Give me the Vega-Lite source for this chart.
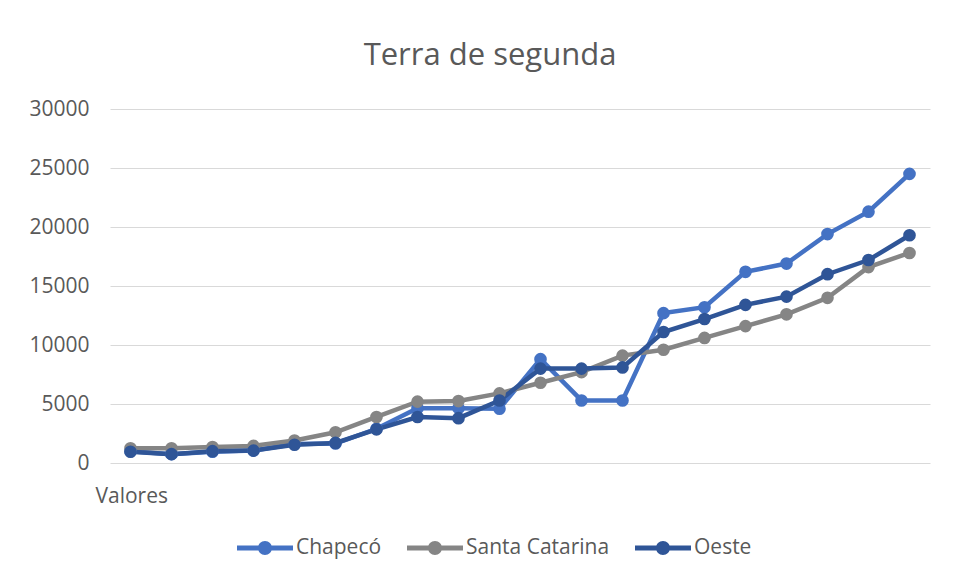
{
  "$schema": "https://vega.github.io/schema/vega-lite/v6.json",
  "autosize": "none",
  "width": 820,
  "height": 354,
  "padding": {"left": 110, "top": 109, "right": 30, "bottom": 118},
  "background": "white",
  "config": {
    "font": "Open Sans",
    "view": {"stroke": null}
  },
  "title": {
    "text": "Terra de segunda",
    "fontSize": 31,
    "fontWeight": "normal",
    "color": "#595959",
    "font": "Open Sans",
    "baseline": "alphabetic",
    "dx": -30,
    "offset": 2
  },
  "data": {
    "values": [
      {"i": 1, "serie": "Chapecó", "v": 1000},
      {"i": 2, "serie": "Chapecó", "v": 750},
      {"i": 3, "serie": "Chapecó", "v": 950},
      {"i": 4, "serie": "Chapecó", "v": 1050},
      {"i": 5, "serie": "Chapecó", "v": 1600},
      {"i": 6, "serie": "Chapecó", "v": 1650},
      {"i": 7, "serie": "Chapecó", "v": 2900},
      {"i": 8, "serie": "Chapecó", "v": 4650},
      {"i": 9, "serie": "Chapecó", "v": 4650},
      {"i": 10, "serie": "Chapecó", "v": 4600},
      {"i": 11, "serie": "Chapecó", "v": 8800},
      {"i": 12, "serie": "Chapecó", "v": 5300},
      {"i": 13, "serie": "Chapecó", "v": 5300},
      {"i": 14, "serie": "Chapecó", "v": 12700},
      {"i": 15, "serie": "Chapecó", "v": 13200},
      {"i": 16, "serie": "Chapecó", "v": 16200},
      {"i": 17, "serie": "Chapecó", "v": 16900},
      {"i": 18, "serie": "Chapecó", "v": 19400},
      {"i": 19, "serie": "Chapecó", "v": 21300},
      {"i": 20, "serie": "Chapecó", "v": 24500},
      {"i": 1, "serie": "Santa Catarina", "v": 1250},
      {"i": 2, "serie": "Santa Catarina", "v": 1250},
      {"i": 3, "serie": "Santa Catarina", "v": 1350},
      {"i": 4, "serie": "Santa Catarina", "v": 1450},
      {"i": 5, "serie": "Santa Catarina", "v": 1900},
      {"i": 6, "serie": "Santa Catarina", "v": 2600},
      {"i": 7, "serie": "Santa Catarina", "v": 3900},
      {"i": 8, "serie": "Santa Catarina", "v": 5200},
      {"i": 9, "serie": "Santa Catarina", "v": 5250},
      {"i": 10, "serie": "Santa Catarina", "v": 5900},
      {"i": 11, "serie": "Santa Catarina", "v": 6800},
      {"i": 12, "serie": "Santa Catarina", "v": 7700},
      {"i": 13, "serie": "Santa Catarina", "v": 9100},
      {"i": 14, "serie": "Santa Catarina", "v": 9600},
      {"i": 15, "serie": "Santa Catarina", "v": 10600},
      {"i": 16, "serie": "Santa Catarina", "v": 11600},
      {"i": 17, "serie": "Santa Catarina", "v": 12600},
      {"i": 18, "serie": "Santa Catarina", "v": 14000},
      {"i": 19, "serie": "Santa Catarina", "v": 16600},
      {"i": 20, "serie": "Santa Catarina", "v": 17800},
      {"i": 1, "serie": "Oeste", "v": 950},
      {"i": 2, "serie": "Oeste", "v": 750},
      {"i": 3, "serie": "Oeste", "v": 1000},
      {"i": 4, "serie": "Oeste", "v": 1050},
      {"i": 5, "serie": "Oeste", "v": 1550},
      {"i": 6, "serie": "Oeste", "v": 1700},
      {"i": 7, "serie": "Oeste", "v": 2850},
      {"i": 8, "serie": "Oeste", "v": 3900},
      {"i": 9, "serie": "Oeste", "v": 3800},
      {"i": 10, "serie": "Oeste", "v": 5300},
      {"i": 11, "serie": "Oeste", "v": 8000},
      {"i": 12, "serie": "Oeste", "v": 8000},
      {"i": 13, "serie": "Oeste", "v": 8100},
      {"i": 14, "serie": "Oeste", "v": 11100},
      {"i": 15, "serie": "Oeste", "v": 12200},
      {"i": 16, "serie": "Oeste", "v": 13400},
      {"i": 17, "serie": "Oeste", "v": 14100},
      {"i": 18, "serie": "Oeste", "v": 16000},
      {"i": 19, "serie": "Oeste", "v": 17200},
      {"i": 20, "serie": "Oeste", "v": 19300}
    ]
  },
  "encoding": {
    "x": {
      "field": "i",
      "type": "ordinal",
      "scale": {"type": "point", "padding": 0.5},
      "axis": {
        "labels": false,
        "ticks": false,
        "domain": false,
        "grid": false,
        "title": "Valores",
        "titleFont": "Open Sans",
        "titleFontSize": 21,
        "titleFontWeight": "normal",
        "titleColor": "#595959",
        "titleAnchor": "start",
        "titleAlign": "left",
        "titleBaseline": "alphabetic",
        "titleX": -15,
        "titleY": 39
      }
    },
    "y": {
      "field": "v",
      "type": "quantitative",
      "scale": {"domain": [0, 30000], "nice": false},
      "axis": {
        "values": [0, 5000, 10000, 15000, 20000, 25000, 30000],
        "format": "d",
        "domain": false,
        "ticks": false,
        "title": null,
        "labelFont": "Open Sans",
        "labelFontSize": 21,
        "labelColor": "#595959",
        "labelPadding": 21,
        "gridColor": "#d9d9d9",
        "gridWidth": 1
      }
    },
    "color": {
      "field": "serie",
      "type": "nominal",
      "sort": ["Chapecó", "Santa Catarina", "Oeste"],
      "scale": {
        "domain": ["Chapecó", "Santa Catarina", "Oeste"],
        "range": ["#4472C4", "#858585", "#2F5597"]
      },
      "legend": {
        "title": null,
        "orient": "none",
        "direction": "horizontal",
        "legendX": 127,
        "legendY": 411,
        "labelFont": "Open Sans",
        "labelFontSize": 21,
        "labelColor": "#595959",
        "labelOffset": 3,
        "columnPadding": 25,
        "symbolType": "M -1 -0.085 L 1 -0.085 L 1 0.085 L -1 0.085 Z M 0.25 0 A 0.25 0.25 0 1 1 -0.25 0 A 0.25 0.25 0 1 1 0.25 0 Z",
        "symbolSize": 3136,
        "symbolStrokeWidth": 0,
        "encode": {
          "symbols": {
            "update": {
              "fill": {"scale": "color", "field": "value"},
              "fillOpacity": {"value": 1},
              "strokeWidth": {"value": 0}
            }
          }
        }
      }
    }
  },
  "layer": [
    {"mark": {"type": "line", "strokeWidth": 4.5}},
    {"mark": {"type": "point", "filled": true, "opacity": 1, "size": 160}}
  ]
}
